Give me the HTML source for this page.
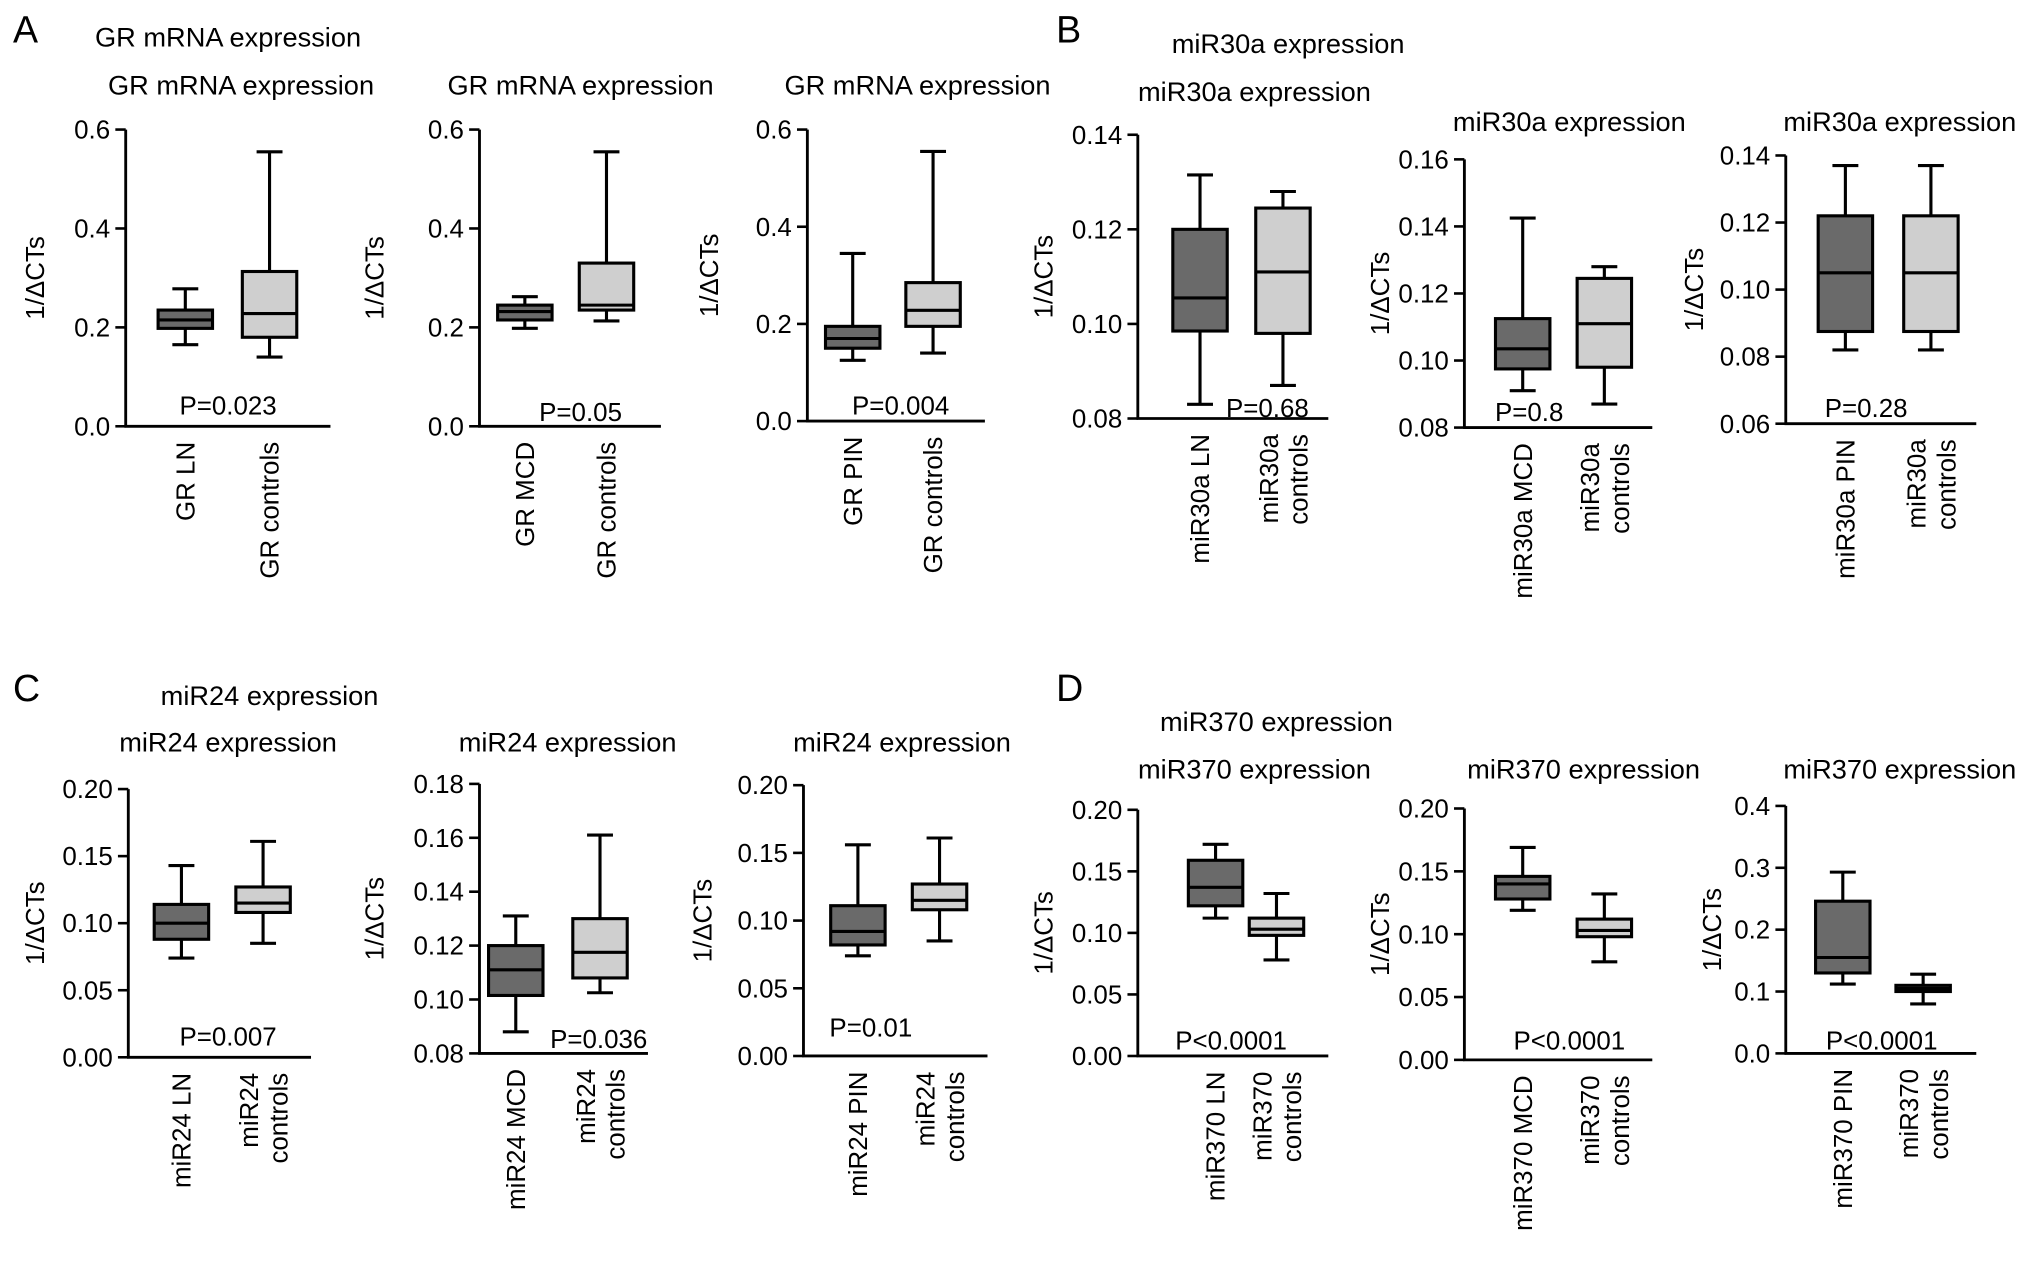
<!DOCTYPE html>
<html><head><meta charset="utf-8"><style>
html,body{margin:0;padding:0;background:#fff;}
svg{display:block;font-family:"Liberation Sans",Arial,sans-serif;}
</style></head><body>
<svg id="fig" width="2032" height="1262" viewBox="0 0 1568 974" preserveAspectRatio="none" xmlns="http://www.w3.org/2000/svg">
<text x="10" y="33" font-size="29">A</text>
<text x="176" y="36" font-size="21" text-anchor="middle">GR mRNA expression</text>
<text x="815" y="33" font-size="29">B</text>
<text x="994" y="41" font-size="21" text-anchor="middle">miR30a expression</text>
<text x="10" y="541" font-size="29">C</text>
<text x="208" y="544" font-size="21" text-anchor="middle">miR24 expression</text>
<text x="815" y="541" font-size="29">D</text>
<text x="985" y="564" font-size="21" text-anchor="middle">miR370 expression</text>
</svg>
<script>
// box stats: [min, q1, median, q3, max]
const a1Stats=[[0.165,0.198,0.215,0.235,0.278],[0.14,0.18,0.228,0.313,0.555]];
const a2Stats=[[0.198,0.215,0.232,0.245,0.262],[0.213,0.235,0.245,0.33,0.555]];
const a3Stats=[[0.125,0.15,0.17,0.195,0.345],[0.14,0.195,0.228,0.285,0.555]];
const b1Stats=[[0.083,0.0985,0.1055,0.12,0.1315],[0.087,0.098,0.111,0.1245,0.128]];
const b2Stats=[[0.091,0.0975,0.1035,0.1125,0.1425],[0.087,0.098,0.111,0.1245,0.128]];
const b3Stats=[[0.082,0.0875,0.105,0.122,0.137],[0.082,0.0875,0.105,0.122,0.137]];
const c1Stats=[[0.074,0.088,0.100,0.114,0.143],[0.085,0.108,0.115,0.127,0.161]];
const c2Stats=[[0.088,0.1015,0.111,0.12,0.131],[0.1025,0.108,0.1175,0.13,0.161]];
const c3Stats=[[0.074,0.082,0.092,0.111,0.156],[0.085,0.108,0.115,0.127,0.161]];
const d1Stats=[[0.112,0.122,0.137,0.159,0.172],[0.078,0.098,0.103,0.112,0.132]];
const d2Stats=[[0.119,0.128,0.14,0.146,0.169],[0.078,0.098,0.103,0.112,0.132]];
const d3Stats=[[0.112,0.13,0.155,0.246,0.293],[0.08,0.1,0.105,0.11,0.128]];
const ticksGR=[0,0.2,0.4,0.6];
const ticksB1=[0.08,0.10,0.12,0.14];
const ticksB2=[0.08,0.10,0.12,0.14,0.16];
const ticksB3=[0.06,0.08,0.10,0.12,0.14];
const ticksC1=[0,0.05,0.10,0.15,0.20];
const ticksC2=[0.08,0.10,0.12,0.14,0.16,0.18];
const ticksD3=[0,0.1,0.2,0.3,0.4];
const pValues=["P=0.023","P=0.05","P=0.004","P=0.68","P=0.8","P=0.28","P=0.007","P=0.036","P=0.01","P<0.0001","P<0.0001","P<0.0001"];

const panels=[
 {id:'a1',stats:a1Stats,ticks:ticksGR,dec:1,ax:97,yt:100,yb:329,c:[143,208],xr:255,p:pValues[0],px:176,py:320,title:'GR mRNA expression',tx:186,ty:73,yl:34,labels:[['GR LN'],['GR controls']]},
 {id:'a2',stats:a2Stats,ticks:ticksGR,dec:1,ax:370,yt:100,yb:329,c:[405,468],xr:510,p:pValues[1],px:448,py:325,title:'GR mRNA expression',tx:448,ty:73,yl:296,labels:[['GR MCD'],['GR controls']]},
 {id:'a3',stats:a3Stats,ticks:ticksGR,dec:1,ax:623,yt:100,yb:325,c:[658,720],xr:760,p:pValues[2],px:695,py:320,title:'GR mRNA expression',tx:708,ty:73,yl:554,labels:[['GR PIN'],['GR controls']]},
 {id:'b1',stats:b1Stats,ticks:ticksB1,dec:2,ax:878,yt:104,yb:323,c:[926,990],xr:1025,p:pValues[3],px:978,py:322,title:'miR30a expression',tx:968,ty:78,yl:812,labels:[['miR30a LN'],['miR30a','controls']]},
 {id:'b2',stats:b2Stats,ticks:ticksB2,dec:2,ax:1130,yt:123,yb:330,c:[1175,1238],xr:1275,p:pValues[4],px:1180,py:325,title:'miR30a expression',tx:1211,ty:101,yl:1072,labels:[['miR30a MCD'],['miR30a','controls']]},
 {id:'b3',stats:b3Stats,ticks:ticksB3,dec:2,ax:1378,yt:120,yb:327,c:[1424,1490],xr:1525,p:pValues[5],px:1440,py:322,title:'miR30a expression',tx:1466,ty:101,yl:1314,labels:[['miR30a PIN'],['miR30a','controls']]},
 {id:'c1',stats:c1Stats,ticks:ticksC1,dec:2,ax:99,yt:609,yb:816,c:[140,203],xr:240,p:pValues[6],px:176,py:807,title:'miR24 expression',tx:176,ty:580,yl:34,labels:[['miR24 LN'],['miR24','controls']]},
 {id:'c2',stats:c2Stats,ticks:ticksC2,dec:2,ax:370,yt:605,yb:813,c:[398,463],xr:500,p:pValues[7],px:462,py:809,title:'miR24 expression',tx:438,ty:580,yl:296,labels:[['miR24 MCD'],['miR24','controls']]},
 {id:'c3',stats:c3Stats,ticks:ticksC1,dec:2,ax:620,yt:606,yb:815,c:[662,725],xr:762,p:pValues[8],px:672,py:800,title:'miR24 expression',tx:696,ty:580,yl:549,labels:[['miR24 PIN'],['miR24','controls']]},
 {id:'d1',stats:d1Stats,ticks:ticksC1,dec:2,ax:878,yt:625,yb:815,c:[938,985],xr:1025,p:pValues[9],px:950,py:810,title:'miR370 expression',tx:968,ty:601,yl:812,labels:[['miR370 LN'],['miR370','controls']]},
 {id:'d2',stats:d2Stats,ticks:ticksC1,dec:2,ax:1130,yt:624,yb:818,c:[1175,1238],xr:1275,p:pValues[10],px:1211,py:810,title:'miR370 expression',tx:1222,ty:601,yl:1072,labels:[['miR370 MCD'],['miR370','controls']]},
 {id:'d3',stats:d3Stats,ticks:ticksD3,dec:1,ax:1378,yt:622,yb:813,c:[1422,1484],xr:1525,p:pValues[11],px:1452,py:810,title:'miR370 expression',tx:1466,ty:601,yl:1328,labels:[['miR370 PIN'],['miR370','controls']]}
];
const NS='http://www.w3.org/2000/svg';
const svg=document.getElementById('fig');
function mk(tag,attrs,parent,text){const e=document.createElementNS(NS,tag);for(const k in attrs)e.setAttribute(k,attrs[k]);if(text!=null)e.textContent=text;(parent||svg).appendChild(e);return e;}
const fills=['#6a6a6a','#cfcfcf'];
panels.forEach(P=>{
 const g=mk('g',{},svg);
 
 
 const lo=P.ticks[0],hi=P.ticks[P.ticks.length-1];
 const y=v=>P.yb-(v-lo)/(hi-lo)*(P.yb-P.yt);
 const t=mk('text',{x:P.tx,y:P.ty,'font-size':21,'text-anchor':'middle'},g,P.title);
 
 
 const yl=mk('text',{x:P.yl,y:(P.yt+P.yb)/2,'font-size':20,'text-anchor':'middle',transform:`rotate(-90 ${P.yl} ${(P.yt+P.yb)/2})`},g,'1/ΔCTs');
 
 
 const axY=mk('line',{x1:P.ax,y1:P.yt,x2:P.ax,y2:P.yb,stroke:'#000','stroke-width':2.2},g);
 
 
 const axX=mk('line',{x1:P.ax-1,y1:P.yb,x2:P.xr,y2:P.yb,stroke:'#000','stroke-width':2.2},g);
 
 
 P.ticks.forEach(tv=>{
  const yy=y(tv);
  const tl=mk('line',{x1:P.ax-8,y1:yy,x2:P.ax,y2:yy,stroke:'#000','stroke-width':2},g);
  
  
  const tt=mk('text',{x:P.ax-12,y:yy+7,'font-size':20,'text-anchor':'end'},g,tv.toFixed(P.dec));
  
  
 });
 P.stats.forEach((s,i)=>{
  const cx=P.c[i],hw=21;
  const bg=mk('g',{},g);
  
  
  mk('line',{x1:cx,y1:y(s[0]),x2:cx,y2:y(s[1]),stroke:'#000','stroke-width':2.4},bg);
  mk('line',{x1:cx,y1:y(s[3]),x2:cx,y2:y(s[4]),stroke:'#000','stroke-width':2.4},bg);
  mk('line',{x1:cx-10,y1:y(s[0]),x2:cx+10,y2:y(s[0]),stroke:'#000','stroke-width':2.4},bg);
  mk('line',{x1:cx-10,y1:y(s[4]),x2:cx+10,y2:y(s[4]),stroke:'#000','stroke-width':2.4},bg);
  mk('rect',{x:cx-hw,y:y(s[3]),width:hw*2,height:y(s[1])-y(s[3]),fill:fills[i],stroke:'#000','stroke-width':2.4},bg);
  mk('line',{x1:cx-hw,y1:y(s[2]),x2:cx+hw,y2:y(s[2]),stroke:'#000','stroke-width':2.4},bg);
  const lines=P.labels[i];
  const lg=mk('g',{},g);
  
  
  lines.forEach((ln,j)=>{
   const lx=cx+7-(lines.length-1)*11+j*23,ly=P.yb+12;
   mk('text',{x:lx,y:ly,'font-size':20,'text-anchor':'end',transform:`rotate(-90 ${lx} ${ly})`},lg,ln);
  });
 });
 const pt=mk('text',{x:P.px,y:P.py,'font-size':20,'text-anchor':'middle'},g,P.p);
 
 
});
</script>
</body></html>
